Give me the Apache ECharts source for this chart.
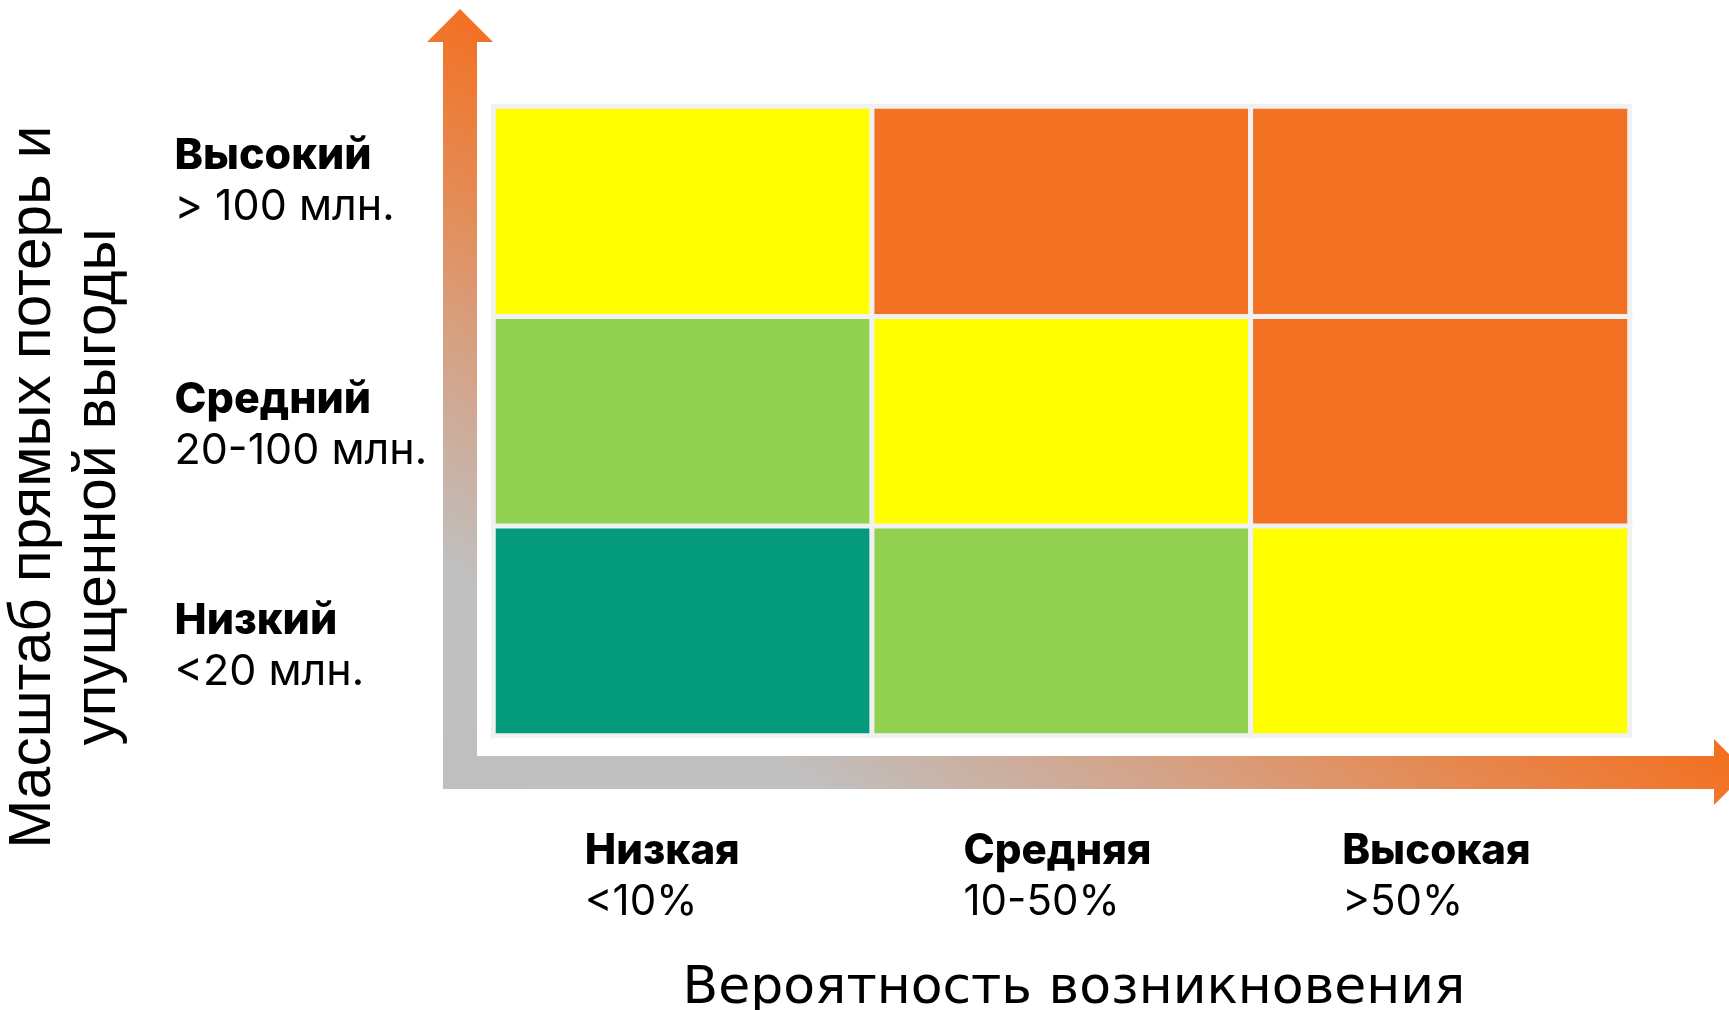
<!DOCTYPE html>
<html>
<head>
<meta charset="utf-8">
<title>Матрица рисков</title>
<script src="https://cdn.jsdelivr.net/npm/echarts@6/dist/echarts.min.js"></script>
<style>
  html, body { margin: 0; padding: 0; background: #fff; }
  #main { width: 1729px; height: 1010px; }
</style>
</head>
<body>
<div id="main"></div>
<script>
// вероятность возникновения (ось X)
var probNames = ['Низкая', 'Средняя', 'Высокая'];
var probRanges = ['<10%', '10-50%', '>50%'];
// масштаб потерь (ось Y, снизу вверх)
var lossNames = ['Низкий', 'Средний', 'Высокий'];
var lossRanges = ['<20 млн.', '20-100 млн.', '> 100 млн.'];
// уровень риска по строкам (Низкий, Средний, Высокий) и столбцам вероятности
var riskLevels = [
	[0, 1, 2],
	[1, 2, 3],
	[2, 3, 3]
];
var levelColors = ['#039b7b', '#92d050', '#ffff00', '#f27123'];

var chart = echarts.init(document.getElementById('main'));

var cells = [];
riskLevels.forEach(function (row, y) {
	row.forEach(function (level, x) {
		cells.push([x, y, level]);
	});
});

// небольшой сдвиг подписей по вертикали, как в оригинале
var yNudge = [16, 5, -30];
var yRich = {
	b: { fontFamily: 'Inter', fontWeight: 800, fontSize: 43, lineHeight: 51, color: '#000' },
	r: { fontFamily: 'Inter', fontWeight: 400, fontSize: 43, lineHeight: 51, color: '#000' }
};
yNudge.forEach(function (d, i) {
	yRich['s' + i] = { fontSize: 1, lineHeight: Math.abs(d) * 2 };
});

// градиент стрелок: серый у угла, оранжевый к концам
var arrowGradient = new echarts.graphic.LinearGradient(443, 789, 790, 204, [
	{ offset: 0, color: '#bfbfbf' },
	{ offset: 0.28, color: '#c0c0c0' },
	{ offset: 0.45, color: '#ccae9e' },
	{ offset: 0.6, color: '#d89e7e' },
	{ offset: 0.76, color: '#e48b55' },
	{ offset: 1, color: '#f37021' }
], true);

option = {
	backgroundColor: '#fff',
	animation: false,
	grid: {
		left: 493.5,
		right: 99.5,
		top: 106.5,
		bottom: 274.5,
		outerBoundsMode: 'none'
	},
	graphic: [{
		type: 'polygon',
		z: 0,
		shape: {
			points: [[460, 9], [493, 42], [477, 42], [477, 756], [1714, 756], [1714, 739],
				[1747, 772], [1714, 805], [1714, 789], [443, 789], [443, 42], [427, 42]]
		},
		style: { fill: arrowGradient }
	}],
	xAxis: {
		type: 'category',
		data: probNames,
		axisLine: { show: false },
		axisTick: { show: false },
		splitLine: { show: false },
		axisLabel: {
			margin: 90,
			width: 196,
			formatter: function (v, i) {
				return '{b|' + v + '}\n{r|' + probRanges[i] + '}';
			},
			rich: {
				b: { fontFamily: 'Inter', fontWeight: 800, fontSize: 42, lineHeight: 51, color: '#000', align: 'left' },
				r: { fontFamily: 'Inter', fontWeight: 400, fontSize: 42, lineHeight: 51, color: '#000', align: 'left' }
			}
		},
		name: 'Вероятность возникновения',
		nameLocation: 'middle',
		nameGap: 224,
		nameTextStyle: {
			fontFamily: 'DejaVu Sans',
			fontSize: 52,
			lineHeight: 60,
			color: '#000',
			padding: [0, 0, 0, 25]
		}
	},
	yAxis: {
		type: 'category',
		data: lossNames,
		axisLine: { show: false },
		axisTick: { show: false },
		splitLine: { show: false },
		axisLabel: {
			margin: 319,
			align: 'left',
			formatter: function (v, i) {
				var text = '{b|' + v + '}\n{r|' + lossRanges[i] + '}';
				var sp = '{s' + i + '| }';
				return yNudge[i] > 0 ? sp + '\n' + text : text + '\n' + sp;
			},
			rich: yRich
		},
		name: 'Масштаб прямых потерь и\nупущенной выгоды',
		nameLocation: 'middle',
		nameGap: 362,
		nameTextStyle: {
			fontFamily: 'Liberation Sans',
			fontSize: 58.5,
			lineHeight: 65,
			color: '#000',
			align: 'center',
			padding: [0, 132, 0, 0]
		}
	},
	visualMap: {
		type: 'piecewise',
		show: false,
		dimension: 2,
		pieces: levelColors.map(function (c, i) {
			return { value: i, color: c };
		})
	},
	series: [{
		name: 'Риск',
		type: 'heatmap',
		data: cells,
		itemStyle: {
			borderColor: '#f1f1f1',
			borderWidth: 5
		},
		emphasis: { disabled: true },
		label: { show: false }
	}]
};
chart.setOption(option);
</script>
</body>
</html>
